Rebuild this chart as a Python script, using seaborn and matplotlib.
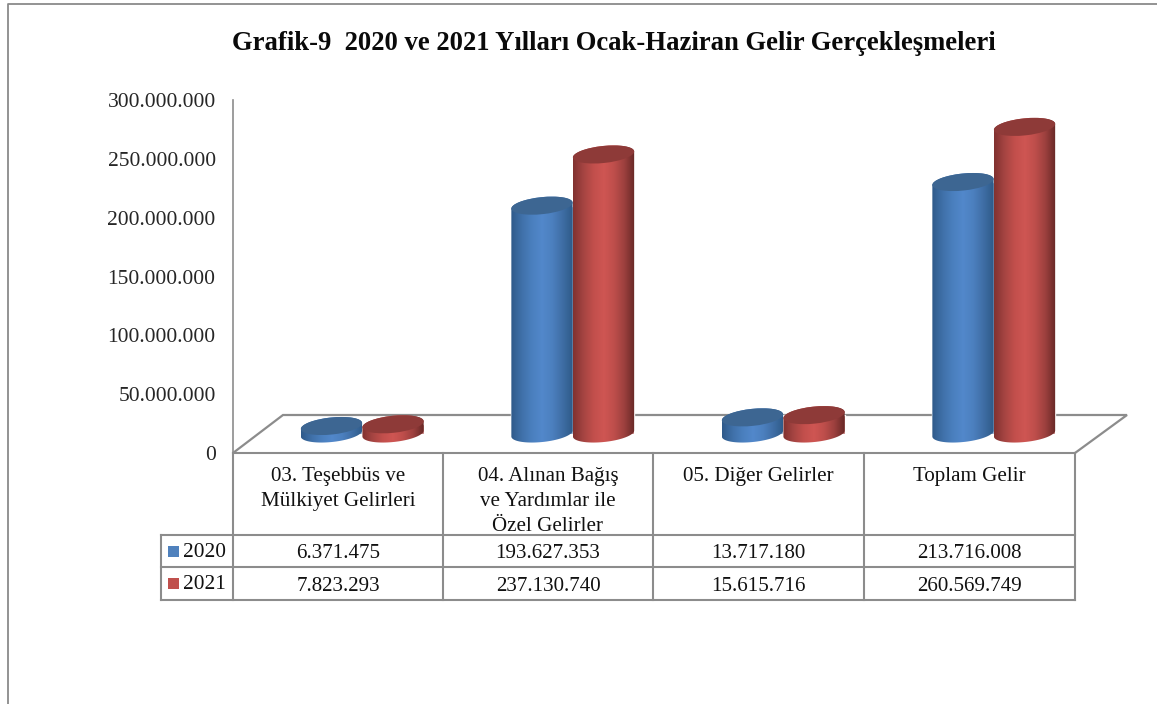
import numpy as np
import pandas as pd
import seaborn as sns
import matplotlib.pyplot as plt
from matplotlib.colors import LinearSegmentedColormap
from matplotlib.patches import Ellipse, Rectangle
from matplotlib.path import Path
from matplotlib.transforms import IdentityTransform

# chart data
categories = ['03. Teşebbüs ve\nMülkiyet Gelirleri', '04. Alınan Bağış\nve Yardımlar ile\nÖzel Gelirler',
              '05. Diğer Gelirler', 'Toplam Gelir']
years = ['2020', '2021']
values_2020 = [6371475, 193627353, 13717180, 213716008]
values_2021 = [7823293, 237130740, 15615716, 260569749]
y_ticks = [0, 50000000, 100000000, 150000000, 200000000, 250000000, 300000000]
title = 'Grafik-9  2020 ve 2021 Yılları Ocak-Haziran Gelir Gerçekleşmeleri'

W, H = 1157, 704
GREY = '#8c8c8c'

sns.set_theme(style='white')
plt.rcParams['font.family'] = ['Liberation Serif', 'DejaVu Serif']
plt.rcParams['text.color'] = '#111111'


def dots(v):
    return f'{v:,}'.replace(',', '.')


def px_axes(x0, y0, x1, y1):
    return fig.add_axes([x0 / W, 1 - y1 / H, (x1 - x0) / W, (y1 - y0) / H])


def ellipse_pts(cx, cy, a, b, ang, t0, t1, n=40):
    t = np.radians(np.linspace(t0, t1, n))
    th = np.radians(ang)
    return np.column_stack([cx + a * np.cos(t) * np.cos(th) - b * np.sin(t) * np.sin(th),
                            cy + a * np.cos(t) * np.sin(th) + b * np.sin(t) * np.cos(th)])


fig = plt.figure(figsize=(W / 100, H / 100), dpi=100, facecolor='white')

# overlay in pixel coordinates for frame, floor and data table
bg = px_axes(0, 0, W, H)
bg.set_xlim(0, W)
bg.set_ylim(H, 0)
bg.axis('off')
bg.plot([8, 8, W], [H, 4, 4], color='#8a8a8a', lw=1.3)
bg.plot([233, 283, 1127, 1075], [453, 415, 415, 453], color=GREY, lw=1.6, solid_joinstyle='miter')

# y axis
ax = px_axes(233, 100, 1075, 453)
ax.patch.set_alpha(0)
ax.set_ylim(0, 300000000)
ax.set_xticks([])
ax.set_yticks(y_ticks)
ax.set_yticklabels([dots(v) for v in y_ticks], fontsize=15.5)
ax.tick_params(axis='y', length=0, pad=12.5)
sns.despine(ax=ax, bottom=True)
ax.spines['left'].set_color(GREY)
ax.spines['left'].set_linewidth(1.2)

# cylinders sit on the floor, so their axes is moved up and right
df = pd.DataFrame({'kategori': categories * 2,
                   'yil': [years[0]] * 4 + [years[1]] * 4,
                   'deger': values_2020 + values_2021})
bx = px_axes(233 + 24, 100 - 19.5, 1075 + 24, 453 - 19.5)
sns.barplot(data=df, x='kategori', y='deger', hue='yil', hue_order=years, dodge=True, width=0.585,
            palette=['#4f81bd', '#c0504d'], legend=False, ax=bx)
bx.set_xlim(-0.5, 3.5)
bx.set_ylim(0, 300000000)
bx.axis('off')

cmaps = [LinearSegmentedColormap.from_list('b', ['#2f5a8a', '#3f70a8', '#4a7fbe', '#5288cb', '#4c80bf', '#3f6ea5', '#2e5a88']),
         LinearSegmentedColormap.from_list('r', ['#813230', '#a54442', '#c24f4c', '#cf5653', '#be4e4b', '#9c403e', '#672826'])]
caps = ['#3d6692', '#8e3a38']
grad = np.linspace(0, 1, 128).reshape(1, -1)
fig.canvas.draw()

for j, cont in enumerate(bx.containers):
    for bar in cont:
        z = 3 + j
        x0, w, h = bar.get_x(), bar.get_width(), bar.get_height()
        (lx, top) = bx.transData.transform((x0, h))
        (rx, base) = bx.transData.transform((x0 + w, 0))
        a = (rx - lx) / 2
        b = 8.5
        cx = (lx + rx) / 2
        ang = 6
        pts = np.vstack([ellipse_pts(cx, base, a, b, ang, 180, 360),
                         ellipse_pts(cx, top, a, b, ang, 0, 180)])
        im = bx.imshow(grad, cmap=cmaps[j], aspect='auto', zorder=z,
                       extent=(x0, x0 + w, -15000000, h + 15000000))
        im.set_clip_box(fig.bbox)
        im.set_clip_path(Path(np.vstack([pts, pts[0]]), closed=True), IdentityTransform())
        bx.add_patch(Ellipse((cx, top), 2 * a, 2 * b, angle=ang, facecolor=caps[j], edgecolor='none',
                             transform=IdentityTransform(), zorder=z, clip_on=False))
bx.set_xlim(-0.5, 3.5)
bx.set_ylim(0, 300000000)

# title
fig.text(613.5 / W, 1 - 44 / H, title, ha='center', va='center', fontsize=19.2, fontweight='bold', color='#0a0a0a')

# data table
col_x = [233, 443, 653, 864, 1075]
for y, x0 in [(453, 233), (535, 161), (567, 161), (600, 161)]:
    bg.plot([x0, 1075], [y, y], color=GREY, lw=1.5, solid_capstyle='projecting')
for x in col_x:
    bg.plot([x, x], [453, 600], color=GREY, lw=1.5, solid_capstyle='projecting')
bg.plot([161, 161], [535, 600], color=GREY, lw=1.5, solid_capstyle='projecting')

for i, cat in enumerate(categories):
    mid = (col_x[i] + col_x[i + 1]) / 2
    bg.text(mid, 466.5, cat, ha='center', va='top', fontsize=15.1, linespacing=1.43)
    bg.text(mid, 553.5, dots(values_2020[i]), ha='center', va='center', fontsize=15.1)
    bg.text(mid, 586.5, dots(values_2021[i]), ha='center', va='center', fontsize=15.1)

for y, yr, col in [(551, years[0], '#4f81bd'), (583, years[1], '#c0504d')]:
    bg.add_patch(Rectangle((168, y - 5), 11, 11, facecolor=col, edgecolor='none'))
    bg.text(183, y + 1.5, yr, ha='left', va='center', fontsize=15.4)

fig.savefig('out.png', dpi=100)
